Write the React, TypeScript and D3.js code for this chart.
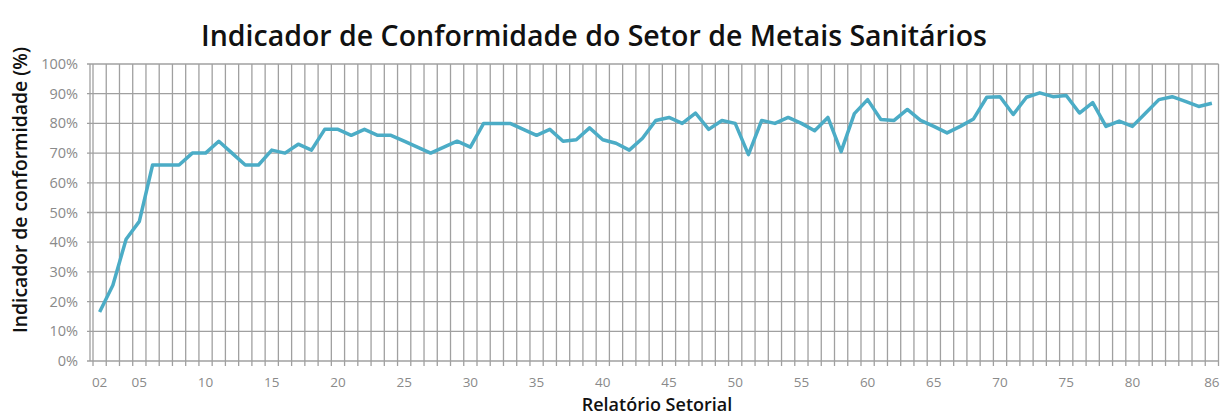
import React from 'react';
import * as d3 from 'd3';

// Relatório setorial (02 .. 86)
const reports = [
  2, 3, 4, 5, 6, 7, 8, 9, 10, 11, 12, 13, 14, 15, 16, 17, 18, 19, 20, 21,
  22, 23, 24, 25, 26, 27, 28, 29, 30, 31, 32, 33, 34, 35, 36, 37, 38, 39, 40, 41,
  42, 43, 44, 45, 46, 47, 48, 49, 50, 51, 52, 53, 54, 55, 56, 57, 58, 59, 60, 61,
  62, 63, 64, 65, 66, 67, 68, 69, 70, 71, 72, 73, 74, 75, 76, 77, 78, 79, 80, 81,
  82, 83, 84, 85, 86,
];

// indicador de conformidade (%)
const conformity = [
  16.5, 25.5, 41, 47, 66, 66, 66, 70, 70, 74, 70, 66, 66, 71, 70, 73, 71, 78, 78, 76,
  78, 76, 76, 74, 72, 70, 72, 74, 72, 80, 80, 80, 78, 76, 78, 74, 74.5, 78.5, 74.5, 73.3,
  71, 75, 81, 82, 80, 83.5, 78, 81, 80, 69.5, 81, 80, 82, 80, 77.5, 82, 70.5, 83.3, 88, 81.3,
  81, 84.7, 81, 79, 76.8, 79, 81.5, 88.8, 89, 83, 88.8, 90.3, 89, 89.4, 83.5, 87, 79, 80.8, 79, 83.5,
  88, 89, 87.4, 85.7, 86.8,
];

const xTickLabels = ['02', '05', '10', '15', '20', '25', '30', '35', '40', '45', '50', '55', '60', '65', '70', '75', '80', '86'];
const yTicks = [0, 10, 20, 30, 40, 50, 60, 70, 80, 90, 100];

const width = 1223;
const height = 417;
const left = 93;
const right = 1218.5;
const top = 64;
const bottom = 361;

export default function App() {
  const x = d3.scaleBand<number>().domain(reports).range([left, right]).padding(0);
  const y = d3.scaleLinear().domain([0, 100]).range([bottom, top]);
  const cx = (r: number) => (x(r) ?? 0) + x.bandwidth() / 2;

  const line = d3
    .line<number>()
    .x((_, i) => cx(reports[i]))
    .y((d) => y(d));

  // category boundaries for vertical grid
  const bounds = reports.map((r) => x(r) ?? 0).concat([right]);
  const grid = '#a0a0a0';
  const font = "'Open Sans', sans-serif";

  return (
    <svg
      width={width}
      height={height}
      style={{ position: 'absolute', left: 0, top: 0, background: '#fff' }}
      fontFamily={font}
    >
      <text x={594} y={46} textAnchor="middle" fontSize={28.5} fontWeight={600} fill="#111">
        Indicador de Conformidade do Setor de Metais Sanitários
      </text>

      {/* horizontal grid */}
      {yTicks.map((t) => (
        <line key={'h' + t} x1={87} x2={right} y1={y(t)} y2={y(t)} stroke={grid} strokeWidth={1.3} />
      ))}
      {/* vertical grid */}
      {bounds.map((b, i) => (
        <line key={'v' + i} x1={b} x2={b} y1={top} y2={bottom + 5} stroke={grid} strokeWidth={1.3} />
      ))}
      <line x1={90} x2={90} y1={top} y2={bottom} stroke={grid} strokeWidth={1.3} />

      {yTicks.map((t) => (
        <text key={'yl' + t} x={78} y={y(t)} dy="0.35em" textAnchor="end" fontSize={14.5} fill="#8a8a8a">
          {t + '%'}
        </text>
      ))}
      {xTickLabels.map((l) => (
        <text key={'xl' + l} x={cx(+l)} y={387} textAnchor="middle" fontSize={13.5} fill="#8a8a8a">
          {l}
        </text>
      ))}

      <path d={line(conformity) ?? ''} fill="none" stroke="#4bacc6" strokeWidth={3.5} strokeLinejoin="round" />

      <text
        transform={`translate(27,${(47 + 333) / 2}) rotate(-90)`}
        textAnchor="middle"
        fontSize={19.3}
        fontWeight={600}
        fill="#111"
      >
        Indicador de conformidade (%)
      </text>
      <text x={657} y={411} textAnchor="middle" fontSize={18} fontWeight={600} fill="#111">
        Relatório Setorial
      </text>
    </svg>
  );
}
